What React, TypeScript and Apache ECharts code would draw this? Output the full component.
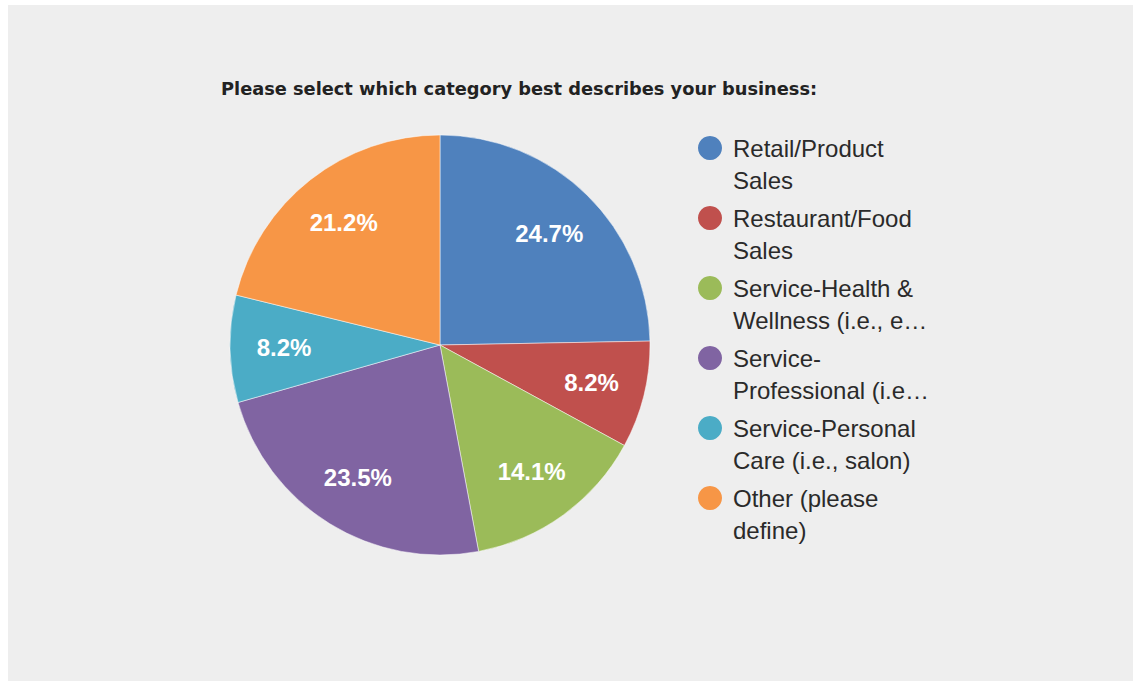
import React, { useEffect, useRef } from "react";
import * as echarts from "echarts";

const titleText = "Please select which category best describes your business:";
const categories = [
  "Retail/Product Sales",
  "Restaurant/Food Sales",
  "Service-Health & Wellness (i.e., e…",
  "Service-Professional (i.e…",
  "Service-Personal Care (i.e., salon)",
  "Other (please define)",
];
const legendLines = [
  ["Retail/Product", "Sales"],
  ["Restaurant/Food", "Sales"],
  ["Service-Health &", "Wellness (i.e., e…"],
  ["Service-", "Professional (i.e…"],
  ["Service-Personal", "Care (i.e., salon)"],
  ["Other (please", "define)"],
];
const counts = [21, 7, 12, 20, 7, 18];
const colors = ["#4f81bd", "#c0504d", "#9bbb59", "#8064a2", "#4bacc6", "#f79646"];

export default function App() {
  const ref = useRef<HTMLDivElement>(null);
  useEffect(() => {
    if (!ref.current) return;
    const chart = echarts.init(ref.current, undefined, { renderer: "svg" });
    const total = counts.reduce((a, b) => a + b, 0);
    const data = categories.map((name, i) => ({
      name,
      value: counts[i],
      itemStyle: { color: colors[i] },
    }));
    const font = "Arial, 'Liberation Sans', sans-serif";
    chart.setOption({
      animation: false,
      backgroundColor: "#eeeeee",
      title: {
        text: titleText,
        left: 213,
        top: 74,
        padding: 0,
        textStyle: {
          fontFamily: "'DejaVu Sans', sans-serif",
          fontSize: 17.8,
          fontWeight: "bold",
          color: "#222222",
        },
      },
      legend: {
        orient: "vertical",
        left: 690,
        top: 95,
        padding: 0,
        icon: "circle",
        itemWidth: 24,
        itemHeight: 24,
        itemGap: -26,
        selectedMode: false,
        itemStyle: { borderWidth: 0 },
        data: categories,
        formatter: (name: string) => "\n" + legendLines[categories.indexOf(name)].join("\n"),
        textStyle: {
          fontFamily: font,
          fontSize: 24,
          lineHeight: 32,
          color: "#2a2a2a",
          padding: [0, 0, 0, 6],
        },
      },
      series: [
        {
          type: "pie",
          center: [432, 340],
          radius: [0, 210],
          startAngle: 90,
          clockwise: true,
          silent: true,
          label: { show: false },
          labelLine: { show: false },
          itemStyle: { borderColor: "#ffffff", borderWidth: 0.5 },
          emphasis: { disabled: true },
          data,
        },
        {
          type: "pie",
          center: [432, 340],
          radius: [96, 210],
          startAngle: 90,
          clockwise: true,
          silent: true,
          itemStyle: { color: "transparent", borderWidth: 0 },
          emphasis: { disabled: true },
          labelLine: { show: false },
          label: {
            show: true,
            position: "inside",
            color: "#ffffff",
            fontFamily: font,
            fontSize: 24,
            fontWeight: "bold",
            formatter: (p: any) => ((p.value / total) * 100).toFixed(1) + "%",
          },
          data: categories.map((name, i) => ({ name, value: counts[i] })),
        },
      ],
    });
    return () => chart.dispose();
  }, []);
  return (
    <div
      ref={ref}
      style={{ position: "absolute", left: 8, top: 5, width: 1125, height: 676 }}
    />
  );
}
